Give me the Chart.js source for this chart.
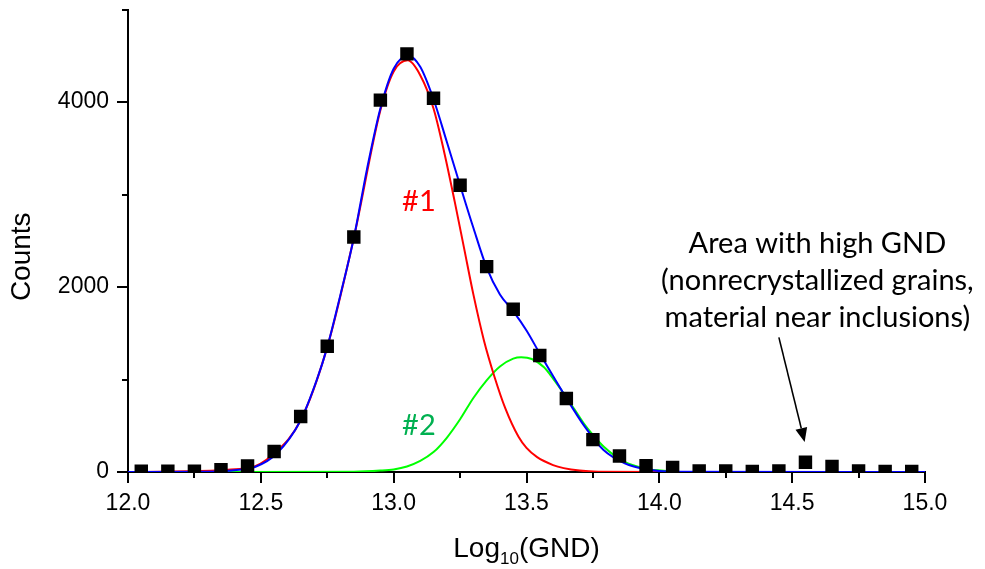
<!DOCTYPE html>
<html>
<head>
<meta charset="utf-8">
<title>GND distribution</title>
<script src="https://cdn.jsdelivr.net/npm/chart.js@4.4.1/dist/chart.umd.min.js"></script>
<style>
html, body { margin: 0; padding: 0; background: #fff; }
#wrap { width: 985px; height: 569px; }
</style>
</head>
<body>
<div id="wrap"><canvas id="gndChart" width="985" height="569"></canvas></div>
<script>

/* measured histogram (black squares) */
const binX = [12.05, 12.15, 12.25, 12.35, 12.45, 12.55, 12.65, 12.75, 12.85, 12.95,
              13.05, 13.15, 13.25, 13.35, 13.45, 13.55, 13.65, 13.75, 13.85, 13.95,
              14.05, 14.15, 14.25, 14.35, 14.45, 14.55, 14.65, 14.75, 14.85, 14.95];
const counts = [8, 8, 8, 25, 65, 222, 600, 1360, 2540, 4020,
                4520, 4040, 3100, 2220, 1760, 1260, 795, 350, 172, 68,
                48, 10, 10, 5, 10, 105, 60, 10, 5, 5];

/* cumulative fit (blue) */
const fitX = [12.0, 12.30, 12.40, 12.48, 12.56, 12.65, 12.71, 12.75, 12.80, 12.85, 12.90, 12.95, 13.00, 13.055,
              13.10, 13.15, 13.20, 13.25, 13.30, 13.35, 13.40, 13.45, 13.50, 13.55, 13.64, 13.72, 13.79, 13.87,
              13.95, 14.05, 15.0];
const fitY = [0, 2, 20, 57, 200, 560, 990, 1350, 1920, 2530, 3280, 3930, 4360, 4500,
              4380, 4030, 3570, 3100, 2640, 2210, 1920, 1740, 1530, 1280, 846, 487, 237, 94,
              30, 3, 0];

/* peak #1 (red) */
const peak1X = [12.05, 12.45, 12.55, 12.65, 12.75, 12.85, 12.95, 13.00, 13.053, 13.10, 13.15, 13.19, 13.23,
                13.265, 13.30, 13.34, 13.38, 13.42, 13.47, 13.50, 13.54, 13.60, 13.64, 13.70, 13.77, 14.05];
const peak1Y = [0, 40, 200, 560, 1350, 2530, 3910, 4330, 4450, 4290, 3930, 3460, 2920,
                2420, 1920, 1420, 1025, 690, 380, 260, 160, 75, 42, 15, 3, 0];

/* peak #2 (green) */
const peak2X = [12.35, 12.85, 12.95, 13.00, 13.05, 13.10, 13.15, 13.20, 13.25, 13.30, 13.35, 13.40, 13.45, 13.48,
                13.52, 13.566, 13.60, 13.641, 13.68, 13.716, 13.75, 13.791, 13.83, 13.867, 13.95, 14.05];
const peak2Y = [0, 3, 15, 28, 60, 120, 215, 370, 570, 800, 990, 1140, 1225, 1240,
                1222, 1132, 1010, 846, 680, 523, 400, 272, 180, 111, 35, 5];

/* axis ticks */
const xMajor = [12.0, 12.5, 13.0, 13.5, 14.0, 14.5, 15.0];
const xMinor = [12.25, 12.75, 13.25, 13.75, 14.25, 14.75];
const yMajor = [0, 2000, 4000];
const yMinor = [1000, 3000, 5000];

/* annotations */
const noteLines = ["Area with high GND", "(nonrecrystallized grains,", "material near inclusions)"];
const noteX = 14.595;
const noteY = [2470, 2070, 1670];
const arrowFrom = [14.45, 1455];
const arrowTo = [14.547, 325];
const label1 = { text: "#1", x: 13.095, y: 2924, color: "#ff0000" };
const label2 = { text: "#2", x: 13.095, y: 505, color: "#00b050" };

const AXIS_FONT = "'Liberation Sans', Arial, sans-serif";
const NOTE_FONT = "Lato, 'Noto Sans', sans-serif";

function pairs(xs, ys) {
  return xs.map((x, i) => ({ x: x, y: ys[i] }));
}

/* ticks, axis titles and notes */
const extras = {
  id: "extras",
  afterDraw(chart) {
    const ctx = chart.ctx;
    const xs = chart.scales.x;
    const ys = chart.scales.y;
    const area = chart.chartArea;

    ctx.save();
    ctx.strokeStyle = "#000";
    ctx.lineWidth = 2;
    ctx.beginPath();
    xMajor.forEach(v => {
      const px = Math.round(xs.getPixelForValue(v));
      ctx.moveTo(px, area.bottom); ctx.lineTo(px, area.bottom + 11);
    });
    xMinor.forEach(v => {
      const px = Math.round(xs.getPixelForValue(v));
      ctx.moveTo(px, area.bottom); ctx.lineTo(px, area.bottom + 6);
    });
    yMajor.forEach(v => {
      const py = Math.round(ys.getPixelForValue(v));
      ctx.moveTo(area.left, py); ctx.lineTo(area.left - 11, py);
    });
    yMinor.forEach(v => {
      const py = Math.round(ys.getPixelForValue(v));
      ctx.moveTo(area.left, py); ctx.lineTo(area.left - 6, py);
    });
    ctx.stroke();

    /* x title with subscript */
    ctx.fillStyle = "#000";
    ctx.textBaseline = "alphabetic";
    const big = "28px " + AXIS_FONT;
    const small = "17px " + AXIS_FONT;
    ctx.font = big;
    const wLog = ctx.measureText("Log").width;
    const wRest = ctx.measureText("(GND)").width;
    ctx.font = small;
    const wSub = ctx.measureText("10").width;
    const total = wLog + wSub + wRest;
    let tx = (area.left + area.right) / 2 - total / 2;
    const base = area.bottom + 85;
    ctx.textAlign = "left";
    ctx.font = big;
    ctx.fillText("Log", tx, base);
    tx += wLog;
    ctx.font = small;
    ctx.fillText("10", tx, base + 7);
    tx += wSub;
    ctx.font = big;
    ctx.fillText("(GND)", tx, base);

    /* y title */
    ctx.save();
    ctx.translate(22, (area.top + area.bottom) / 2 + 16);
    ctx.rotate(-Math.PI / 2);
    ctx.textAlign = "center";
    ctx.textBaseline = "middle";
    ctx.font = big;
    ctx.fillText("Counts", 0, 0);
    ctx.restore();

    /* peak labels */
    ctx.textAlign = "center";
    ctx.textBaseline = "middle";
    ctx.font = "29px " + NOTE_FONT;
    [label1, label2].forEach(l => {
      ctx.fillStyle = l.color;
      ctx.fillText(l.text, xs.getPixelForValue(l.x), ys.getPixelForValue(l.y));
    });

    /* note and arrow */
    ctx.fillStyle = "#000";
    noteLines.forEach((t, i) => {
      ctx.fillText(t, xs.getPixelForValue(noteX), ys.getPixelForValue(noteY[i]));
    });
    const x0 = xs.getPixelForValue(arrowFrom[0]);
    const y0 = ys.getPixelForValue(arrowFrom[1]);
    const x1 = xs.getPixelForValue(arrowTo[0]);
    const y1 = ys.getPixelForValue(arrowTo[1]);
    const ang = Math.atan2(y1 - y0, x1 - x0);
    const headLen = 14, headW = 6;
    const bx = x1 - headLen * Math.cos(ang);
    const by = y1 - headLen * Math.sin(ang);
    ctx.strokeStyle = "#000";
    ctx.lineWidth = 1.6;
    ctx.beginPath();
    ctx.moveTo(x0, y0);
    ctx.lineTo(bx, by);
    ctx.stroke();
    ctx.beginPath();
    ctx.moveTo(x1, y1);
    ctx.lineTo(bx + headW * Math.sin(ang), by - headW * Math.cos(ang));
    ctx.lineTo(bx - headW * Math.sin(ang), by + headW * Math.cos(ang));
    ctx.closePath();
    ctx.fill();
    ctx.restore();
  }
};

new Chart(document.getElementById("gndChart"), {

type: "line",

data: {
datasets: [
{
  type: "scatter",
  label: "Counts",
  data: pairs(binX, counts),
  showLine: false,
  pointStyle: "rect",
  pointRadius: 9.5,
  pointHoverRadius: 9.5,
  pointBackgroundColor: "#000",
  pointBorderWidth: 0,
  order: 0
},
{
  label: "Fit",
  data: pairs(fitX, fitY),
  borderColor: "#0000ff",
  borderWidth: 2,
  pointRadius: 0,
  cubicInterpolationMode: "monotone",
  fill: false,
  order: 1
},
{
  label: "#1",
  data: pairs(peak1X, peak1Y),
  borderColor: "#ff0000",
  borderWidth: 2,
  pointRadius: 0,
  cubicInterpolationMode: "monotone",
  fill: false,
  order: 2
},
{
  label: "#2",
  data: pairs(peak2X, peak2Y),
  borderColor: "#00ff00",
  borderWidth: 2,
  pointRadius: 0,
  cubicInterpolationMode: "monotone",
  fill: false,
  order: 3
}
]
},

options: {
responsive: false,
animation: false,
devicePixelRatio: 1,
layout: { padding: { top: 8, right: 60, left: 0, bottom: 0 } },
plugins: {
  legend: { display: false },
  tooltip: { enabled: false }
},
scales: {
  x: {
    type: "linear",
    min: 12,
    max: 15,
    afterBuildTicks: s => { s.ticks = xMajor.map(v => ({ value: v })); },
    afterFit: s => {
      s.height = 97;
      s.paddingLeft = 0; s.paddingRight = 0;
    },
    grid: { display: false, drawTicks: false },
    border: { display: true, color: "#000", width: 2 },
    ticks: {
      padding: 18,
      color: "#000",
      font: { family: AXIS_FONT, size: 23 },
      maxRotation: 0,
      callback: v => v.toFixed(1)
    }
  },
  y: {
    type: "linear",
    min: 0,
    max: 5000,
    afterBuildTicks: s => { s.ticks = yMajor.map(v => ({ value: v })); },
    afterFit: s => {
      s.width = 128;
      s.paddingTop = 0; s.paddingBottom = 0;
    },
    grid: { display: false, drawTicks: false },
    border: { display: true, color: "#000", width: 2 },
    ticks: {
      padding: 19,
      color: "#000",
      font: { family: AXIS_FONT, size: 23 },
      callback: v => String(v)
    }
  }
}
},

plugins: [extras]

});

</script>
</body>
</html>
